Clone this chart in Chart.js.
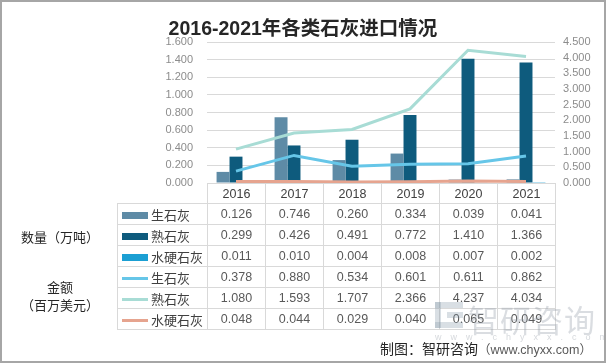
<!DOCTYPE html>
<html>
<head>
<meta charset="utf-8">
<script src="https://cdn.jsdelivr.net/npm/chart.js@4/dist/chart.umd.min.js"></script>
<style>
  html,body{margin:0;padding:0;background:#fff;}
  body{width:606px;height:363px;position:relative;overflow:hidden;font-family:"Liberation Sans","Noto Sans CJK SC",sans-serif;}
  #frame{position:absolute;left:0;top:0;width:606px;height:363px;box-sizing:border-box;border:2px solid #a6a6a6;pointer-events:none;z-index:5;}
  canvas{position:absolute;left:0;top:0;}
  #title{position:absolute;left:0;top:12px;width:606px;text-align:center;font-size:19.5px;font-weight:bold;color:#262626;font-family:"Liberation Sans","Noto Sans CJK SC",sans-serif;}
  #tbl{position:absolute;border-collapse:collapse;table-layout:fixed;color:#595959;font-size:12.5px;}
  #tbl td{border:1px solid #d9d9d9;padding:0;text-align:center;height:21px;box-sizing:border-box;}
  #tbl tr.head td{height:20px;color:#404040;font-size:12.5px;}
  #tbl td.blank{border:none;border-bottom:1px solid #d9d9d9;}
  #tbl td.lab{text-align:left;font-size:13px;color:#404040;white-space:nowrap;padding-left:4px;}
  .key{display:inline-block;width:26px;vertical-align:middle;margin-right:3px;position:relative;top:-1px;}
  .grp{position:absolute;width:110px;text-align:center;font-size:13px;color:#262626;line-height:18px;}
  #wm{position:absolute;left:433px;top:296px;color:rgba(150,158,168,0.35);z-index:2;}
  #wm .big{position:absolute;left:35px;top:0;font-size:31px;letter-spacing:1px;white-space:nowrap;}
  #wm .url{position:absolute;left:2px;top:36px;font-size:9px;letter-spacing:9px;white-space:nowrap;color:rgba(150,158,168,0.4);}
  #wm .logo{position:absolute;left:2px;top:6px;width:28px;height:26px;}
  #wm .logo i{position:absolute;background:rgba(130,148,166,0.3);}
  #foot{position:absolute;left:380px;top:338px;font-size:14px;color:#262626;white-space:nowrap;z-index:3;}
  #foot span{font-size:12.5px;color:#595959;}
</style>
</head>
<body>
<canvas id="c" width="606" height="363"></canvas>
<div id="title">2016-2021年各类石灰进口情况</div>
<table id="tbl"></table>
<div class="grp" style="left:5px;top:229px;">数量（万吨）</div>
<div class="grp" style="left:5px;top:279px;">金额<br>（百万美元）</div>
<div id="wm">
  <div class="logo"><i style="left:0;top:0;width:28px;height:6px;"></i><i style="left:0;top:0;width:6px;height:26px;"></i><i style="left:0;top:20px;width:28px;height:6px;"></i><i style="left:12px;top:10px;width:16px;height:6px;"></i></div>
  <div class="big">智研咨询</div>
  <div class="url">www.chyxx.com</div>
</div>
<div id="foot">制图：智研咨询<span>（www.chyxx.com）</span></div>
<div id="frame"></div>
<script>
const years = ["2016","2017","2018","2019","2020","2021"];
const qtyQuicklime = [0.126,0.746,0.260,0.334,0.039,0.041];
const qtySlaked = [0.299,0.426,0.491,0.772,1.410,1.366];
const qtyHydraulic = [0.011,0.010,0.004,0.008,0.007,0.002];
const amtQuicklime = [0.378,0.880,0.534,0.601,0.611,0.862];
const amtSlaked = [1.080,1.593,1.707,2.366,4.237,4.034];
const amtHydraulic = [0.048,0.044,0.029,0.040,0.065,0.049];

const rows = [
  {name:"生石灰", data:qtyQuicklime, color:"#5e8ba6", bar:true},
  {name:"熟石灰", data:qtySlaked, color:"#0e5b7d", bar:true},
  {name:"水硬石灰", data:qtyHydraulic, color:"#1b9fd3", bar:true},
  {name:"生石灰", data:amtQuicklime, color:"#66c6e8", bar:false},
  {name:"熟石灰", data:amtSlaked, color:"#a8dcd5", bar:false},
  {name:"水硬石灰", data:amtHydraulic, color:"#e6a48f", bar:false}
];

const tickFont = {family:"Liberation Sans", size:11};
const datasets = [];
// lines first so they are drawn on top of the bars
rows.filter(r=>!r.bar).forEach(r=>{
  datasets.push({type:"line", label:r.name, data:r.data, yAxisID:"y2", borderColor:r.color, backgroundColor:r.color, borderWidth:3, pointRadius:0, tension:0});
});
rows.filter(r=>r.bar).forEach(r=>{
  datasets.push({type:"bar", label:r.name, data:r.data, yAxisID:"y", backgroundColor:r.color, barPercentage:1, categoryPercentage:0.67});
});

const chart = new Chart(document.getElementById("c"), {
  data: {labels: years, datasets},
  options: {
    responsive:false, animation:false,
    layout:{padding:{top:42, bottom:180, left:0, right:0}},
    plugins:{legend:{display:false}, tooltip:{enabled:false}},
    scales:{
      x:{display:false},
      y:{position:"left", min:0, max:1.6, border:{display:false},
        grid:{color:"#d9d9d9", drawTicks:false},
        afterFit:s=>{s.width=207;},
        ticks:{stepSize:0.2, autoSkip:false, padding:14, color:"#8c8c8c", font:tickFont, callback:v=>v.toFixed(3)}},
      y2:{position:"right", min:0, max:4.5, border:{display:false},
        grid:{display:false, drawTicks:false},
        afterFit:s=>{s.width=51;},
        ticks:{stepSize:0.5, autoSkip:false, padding:8, color:"#8c8c8c", font:tickFont, callback:v=>v.toFixed(3)}}
    }
  }
});

// data table aligned to the chart's x scale
const ca = chart.chartArea;
const colW = (ca.right - ca.left) / years.length;
const labW = 90;
const tbl = document.getElementById("tbl");
tbl.style.left = (ca.left - labW) + "px";
tbl.style.top = ca.bottom + "px";
tbl.style.width = (labW + colW*years.length) + "px";
let html = '<colgroup><col style="width:'+labW+'px">' + years.map(()=>'<col style="width:'+colW+'px">').join("") + '</colgroup>';
html += '<tr class="head"><td class="blank"></td>' + years.map(y=>'<td>'+y+'</td>').join("") + '</tr>';
rows.forEach(r=>{
  const key = '<span class="key" style="height:'+(r.bar?7:3)+'px;background:'+r.color+'"></span>';
  html += '<tr><td class="lab">'+key+r.name+'</td>' + r.data.map(v=>'<td>'+v.toFixed(3)+'</td>').join("") + '</tr>';
});
tbl.innerHTML = html;
</script>
</body>
</html>
